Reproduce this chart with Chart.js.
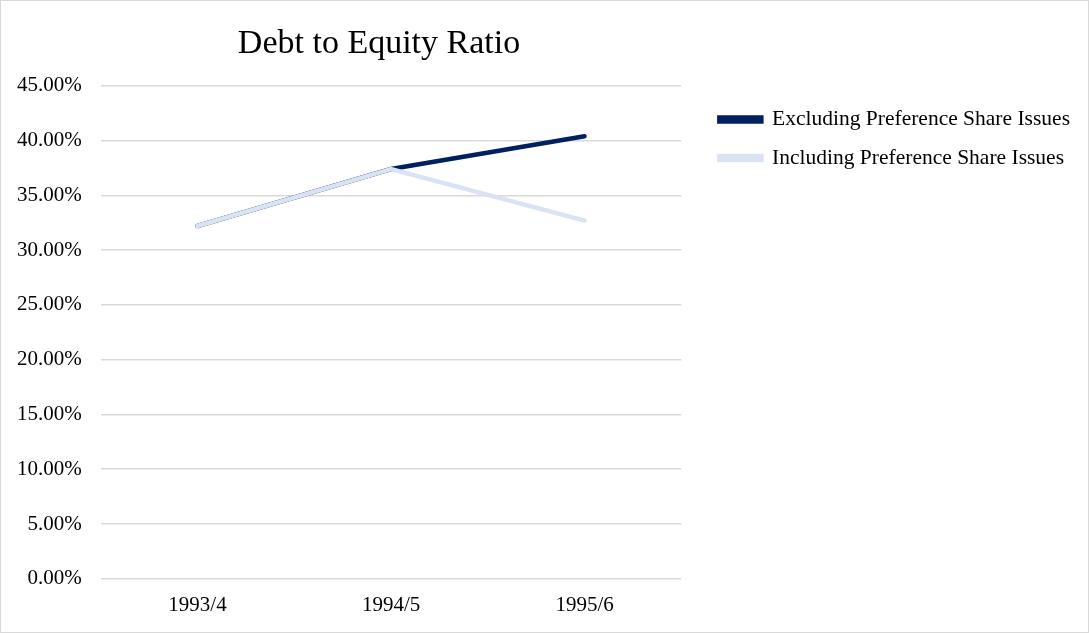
<!DOCTYPE html>
<html>
<head>
<meta charset="utf-8">
<script src="https://cdn.jsdelivr.net/npm/chart.js@4"></script>
<style>
  html, body { margin: 0; padding: 0; background: #fff; }
  .wrap { width: 1089px; height: 633px; border: 1px solid #d9d9d9; box-sizing: border-box; position: relative; }
</style>
</head>
<body>
<div class="wrap"><canvas id="lineChart"></canvas></div>
<script>
const years = ['1993/4', '1994/5', '1995/6'];
const excluding = [32.2, 37.4, 40.4];
const including = [32.2, 37.4, 32.7];

// nudge legend and title to where Excel put them
const shiftBoxes = {
  id: 'shiftBoxes',
  afterLayout(chart) {
    const l = chart.legend;
    l.left += 21; l.right += 21;
    l.top += 6; l.bottom += 6;
    const t = chart.titleBlock;
    t.left -= 12; t.right -= 12;
  }
};

const serif = 'Liberation Serif, Times New Roman, serif';

const ctx1 = document.getElementById('lineChart');
new Chart(ctx1, {
  type: 'line',
  data: {
    labels: years,
    datasets: [{
      label: 'Excluding Preference Share Issues',
      data: excluding,
      borderColor: '#002060',
      backgroundColor: '#002060',
      borderWidth: 4.5,
      borderCapStyle: 'round',
      pointRadius: 0,
      order: 1
    }, {
      label: 'Including Preference Share Issues',
      data: including,
      borderColor: '#dae3f3',
      backgroundColor: '#dae3f3',
      borderWidth: 4.5,
      borderCapStyle: 'round',
      pointRadius: 0,
      order: 0
    }]
  },
  options: {
    responsive: true,
    maintainAspectRatio: false,
    animation: false,
    layout: { padding: { left: -3, right: 29, top: 0, bottom: 0 } },
    plugins: {
      title: {
        display: true,
        text: 'Debt to Equity Ratio',
        fullSize: false,
        color: '#000',
        font: { family: serif, size: 34, weight: 'normal' },
        padding: { top: 23, bottom: 21 }
      },
      legend: {
        position: 'right',
        align: 'start',
        fullSize: false,
        maxWidth: 420,
        labels: {
          color: '#000',
          font: { family: serif, size: 21.5 },
          boxWidth: 42,
          boxHeight: 4,
          padding: 17,
          sort: (a, b) => a.datasetIndex - b.datasetIndex
        }
      },
      tooltip: { enabled: false }
    },
    scales: {
      x: {
        offset: true,
        grid: { display: false, drawTicks: false },
        border: { display: false },
        ticks: { color: '#000', font: { family: serif, size: 21 }, padding: 14 }
      },
      y: {
        min: 0,
        max: 45,
        grid: { color: '#d9d9d9', lineWidth: 1.5, drawTicks: false },
        border: { display: false },
        ticks: {
          stepSize: 5,
          color: '#000',
          font: { family: serif, size: 21 },
          padding: 19,
          callback: v => v.toFixed(2) + '%'
        }
      }
    }
  },
  plugins: [shiftBoxes]
});
</script>
</body>
</html>
